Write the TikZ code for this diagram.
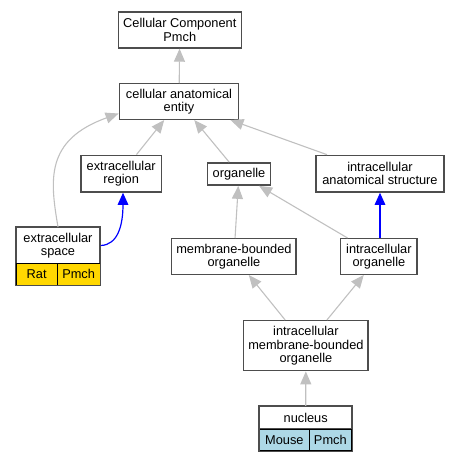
\documentclass[tikz,border=0pt]{standalone}
\usepackage{fontspec}
\setmainfont{Liberation Sans}
\usetikzlibrary{arrows.meta,calc}
\definecolor{boxline}{HTML}{4D4D4D}
\definecolor{edgegray}{HTML}{C0C0C0}
\definecolor{ratgold}{HTML}{FFD700}
\definecolor{mouseblue}{HTML}{ADD8E6}
\newcommand{\gofont}{\fontsize{12.8pt}{13.4pt}\selectfont}
\tikzset{
  term/.style={draw=boxline, line width=1.4pt, fill=white, inner sep=0pt, align=center,
    font=\gofont},
  cell/.style={draw=black, line width=1pt, inner sep=0pt, align=center,
    font=\gofont},
  isa/.style={draw=edgegray, line width=1.1pt, -{Triangle[length=13pt,width=11pt]}},
  partof/.style={draw=blue, line width=1.2pt, -{Triangle[length=12pt,width=10.5pt]}},
}
\begin{document}
\begin{tikzpicture}[x=1pt,y=-1pt]
\useasboundingbox (0,0) rectangle (460,461);
% nodes
\node[term, minimum width=123pt, minimum height=36pt] (cc) at (179.8,30) {Cellular Component\\Pmch};
\node[term, minimum width=119.4pt, minimum height=35.6pt] (cae) at (179,101.5) {cellular anatomical\\entity};
\node[term, minimum width=80.3pt, minimum height=36.7pt] (er) at (121.2,173.7) {extracellular\\region};
\node[term, minimum width=62.6pt, minimum height=22.3pt] (org) at (239,174) {organelle};
\node[term, minimum width=128.3pt, minimum height=36.7pt] (ias) at (380,173.7) {intracellular\\anatomical structure};
\node[term, minimum width=84pt, minimum height=35.6pt] (es) at (58,245.5) {extracellular\\space};
\node[cell, fill=ratgold, minimum width=41.3pt, minimum height=21.7pt] (esrat) at (36.65,274.15) {Rat};
\node[cell, fill=ratgold, minimum width=42.7pt, minimum height=21.7pt] (espmch) at (78.65,274.15) {Pmch};
\node[term, minimum width=124.3pt, minimum height=35.6pt] (mbo) at (233.9,256.5) {membrane-bounded\\organelle};
\node[term, minimum width=76.3pt, minimum height=35.6pt] (io) at (378.9,256.5) {intracellular\\organelle};
\node[term, minimum width=124.3pt, minimum height=50pt] (imbo) at (305.9,345.7) {intracellular\\membrane-bounded\\organelle};
\node[term, minimum width=92pt, minimum height=22.3pt] (nuc) at (305.7,417.8) {nucleus};
\node[cell, fill=mouseblue, minimum width=49.3pt, minimum height=21.7pt] (nucmouse) at (284.35,439.85) {Mouse};
\node[cell, fill=mouseblue, minimum width=42.7pt, minimum height=21.7pt] (nucpmch) at (330.35,439.85) {Pmch};
\draw[draw=boxline, line width=1.4pt] (es.north west) rectangle (espmch.south east);
\draw[draw=boxline, line width=1.4pt] (nuc.north west) rectangle (nucpmch.south east);
% edges
\draw[isa] (cae) -- (cc);
\draw[isa] (er) -- (cae);
\draw[isa] (org) -- (cae);
\draw[isa] (ias) -- (cae);
\draw[isa] (es.north) .. controls (50,180) and (45,140) .. ($(cae.south west)+(0,-6.5)$);
\draw[partof] (es.east) .. controls (118,245) and (123,225) .. (er.south -| 123,0);
\draw[isa] (mbo) -- (org);
\draw[isa] (io) -- (org);
\draw[partof] (io.north -| 380,0) -- (ias.south -| 380,0);
\draw[isa] (imbo) -- (mbo);
\draw[isa] (imbo) -- (io);
\draw[isa] (nuc) -- (imbo);
\end{tikzpicture}
\end{document}
